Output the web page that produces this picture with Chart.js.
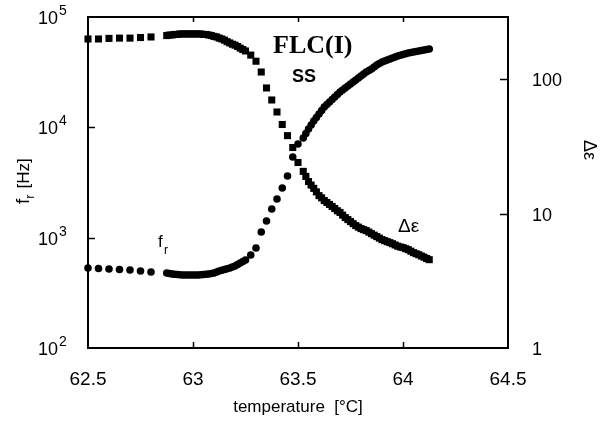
<!DOCTYPE html>
<html><head><meta charset="utf-8">
<script src="https://cdn.jsdelivr.net/npm/chart.js@4/dist/chart.umd.min.js"></script>
<style>html,body{margin:0;padding:0;background:#fff;}canvas{display:block}</style>
</head><body>
<canvas id="c" width="600" height="430"></canvas>
<script>
// temperature [°C]
const temperature = [
  62.5, 62.55, 62.6, 62.65, 62.7, 62.75, 62.8,
  62.875, 62.8875, 62.9, 62.9125, 62.925, 62.9375, 62.95, 62.9625, 62.975, 62.9875,
  63.0, 63.0125, 63.025, 63.0375, 63.05, 63.0625, 63.075, 63.0875, 63.1, 63.1125,
  63.125, 63.1375, 63.15, 63.1625, 63.175, 63.1875, 63.2, 63.2125, 63.225, 63.2375, 63.25,
  63.275, 63.3, 63.325, 63.35, 63.375, 63.4, 63.425, 63.45, 63.475, 63.5, 63.525,
  63.5375, 63.55, 63.5625, 63.575, 63.5875, 63.6, 63.6125, 63.625, 63.6375, 63.65,
  63.6625, 63.675, 63.6875, 63.7, 63.7125, 63.725, 63.7375, 63.75, 63.7625, 63.775,
  63.7875, 63.8, 63.8125, 63.825, 63.8375, 63.85, 63.8625, 63.875, 63.8875, 63.9,
  63.9125, 63.925, 63.9375, 63.95, 63.9625, 63.975, 63.9875, 64.0, 64.0125, 64.025,
  64.0375, 64.05, 64.0625, 64.075, 64.0875, 64.1, 64.1125, 64.125
];
// relaxation frequency f_r [Hz] (circles, left axis)
const frequency = [
  531, 525, 520, 514, 509, 499, 489,
  479, 474, 469, 466, 464, 461, 459, 459, 459, 459,
  459, 459, 459, 461, 464, 466, 469, 474, 479, 489,
  499, 506, 514, 522, 531, 542, 553, 571, 589, 608, 628,
  697, 805, 1125, 1416, 1820, 2239, 2818, 3622, 5384, 7061, 8006,
  8790, 9660, 10500, 11410, 12280, 13200, 14210, 15290, 16100, 16970,
  17870, 18830, 19840, 20900, 21800, 22730, 23690, 24700, 25760, 26850,
  28000, 29190, 30440, 31730, 32740, 33780, 35220, 36720, 37890, 39090,
  39920, 40760, 41620, 42500, 43400, 44300, 44970, 45720, 46400, 47170,
  47670, 48170, 48670, 49180, 49700, 50220, 50740, 51290
];
// dielectric strength Δε (squares, right axis)
const deltaEps = [
  199, 199, 201, 202, 202, 204, 206,
  211, 213, 213, 215, 215, 217, 217, 217, 217, 217,
  217, 217, 217, 217, 215, 215, 213, 211, 208, 206,
  202, 199, 195, 190, 186, 182, 179, 175, 170, 166, 162,
  151, 136, 113, 86, 70, 57, 46, 38, 31, 24.0, 20.6,
  18.9, 17.3, 16.3, 15.4, 14.5, 13.6, 13.1, 12.5, 12.1, 11.7,
  11.3, 10.9, 10.5, 10.2, 9.74, 9.34, 9.02, 8.72, 8.42, 8.14,
  7.93, 7.73, 7.60, 7.47, 7.28, 7.09, 6.91, 6.74, 6.57, 6.40,
  6.29, 6.18, 6.08, 5.97, 5.84, 5.72, 5.64, 5.58, 5.48, 5.39,
  5.25, 5.12, 5.03, 4.94, 4.83, 4.74, 4.63, 4.54
];
const xTicks = [62.5, 63, 63.5, 64, 64.5];
const frTicks = [100, 1000, 10000, 100000];
const frTickExponents = ['2', '3', '4', '5'];
const deTicks = [1, 10, 100];
const deTickLabels = ['1', '10', '100'];

const SANS = '"Liberation Sans", Arial, Helvetica, sans-serif';

const overlay = {
  id: 'overlay',
  beforeDatasetsDraw(chart) {
    const {ctx, chartArea: a, scales} = chart;
    ctx.save();
    ctx.strokeStyle = '#000';
    ctx.lineWidth = 2;
    ctx.strokeRect(a.left, a.top, a.right - a.left, a.bottom - a.top);
    ctx.lineWidth = 1.5;
    ctx.beginPath();
    xTicks.slice(1, -1).forEach(v => {
      const px = Math.round(scales.x.getPixelForValue(v)) + 0.5;
      ctx.moveTo(px, a.bottom); ctx.lineTo(px, a.bottom - 6);
      ctx.moveTo(px, a.top); ctx.lineTo(px, a.top + 5);
    });
    frTicks.slice(1, -1).forEach(v => {
      const py = Math.round(scales.y.getPixelForValue(v)) + 0.5;
      ctx.moveTo(a.left, py); ctx.lineTo(a.left + 7, py);
    });
    deTicks.slice(1).forEach(v => {
      const py = Math.round(scales.y2.getPixelForValue(v)) + 0.5;
      ctx.moveTo(a.right, py); ctx.lineTo(a.right - 8, py);
    });
    ctx.stroke();
    ctx.restore();
  },
  afterDraw(chart) {
    const {ctx, scales} = chart;
    ctx.save();
    ctx.fillStyle = '#000';
    // left tick labels 10^n
    frTicks.forEach((v, i) => {
      const py = scales.y.getPixelForValue(v);
      ctx.font = '18px ' + SANS;
      ctx.textAlign = 'right'; ctx.textBaseline = 'middle';
      ctx.fillText('10', 58, py + 2);
      ctx.font = '14px ' + SANS;
      ctx.textAlign = 'left';
      ctx.fillText(frTickExponents[i], 59, py - 6);
    });
    // right tick labels
    deTicks.forEach((v, i) => {
      const py = scales.y2.getPixelForValue(v);
      ctx.font = '18px ' + SANS;
      ctx.textAlign = 'left'; ctx.textBaseline = 'middle';
      ctx.fillText(deTickLabels[i], 532, py + 2);
    });
    // left axis title f_r [Hz]
    ctx.save();
    ctx.translate(29, 204);
    ctx.rotate(-Math.PI / 2);
    ctx.textAlign = 'left'; ctx.textBaseline = 'alphabetic';
    ctx.font = '19px ' + SANS;
    ctx.fillText('f', 0, 0);
    let w = ctx.measureText('f').width;
    ctx.font = '13px ' + SANS;
    ctx.fillText('r', w, 5);
    w += ctx.measureText('r').width + 6;
    ctx.font = '17px ' + SANS;
    ctx.fillText('[Hz]', w, 0);
    ctx.restore();
    // right axis title Δε
    ctx.save();
    ctx.translate(584, 150);
    ctx.rotate(Math.PI / 2);
    ctx.textAlign = 'center'; ctx.textBaseline = 'alphabetic';
    ctx.font = '18px ' + SANS;
    ctx.fillText('Δε', 0, 0);
    ctx.restore();
    // annotations
    ctx.textAlign = 'left'; ctx.textBaseline = 'alphabetic';
    ctx.font = 'bold 26px "Liberation Serif", "Times New Roman", serif';
    ctx.fillText('FLC(I)', 273, 53);
    ctx.font = 'bold 18px ' + SANS;
    ctx.fillText('SS', 292, 82);
    ctx.font = '17px ' + SANS;
    ctx.fillText('f', 158, 247);
    ctx.font = '12px ' + SANS;
    ctx.fillText('r', 164, 254);
    ctx.font = '19px ' + SANS;
    ctx.fillText('Δε', 398, 232);
    ctx.restore();
  }
};

new Chart(document.getElementById('c'), {
  type: 'scatter',
  data: {
    datasets: [
      {
        label: 'f_r',
        data: temperature.map((t, i) => ({x: t, y: frequency[i]})),
        yAxisID: 'y',
        pointStyle: 'circle',
        pointRadius: 3.8,
        backgroundColor: '#000',
        borderColor: '#000',
        borderWidth: 0,
        showLine: false,
        clip: false
      },
      {
        label: 'Δε',
        data: temperature.map((t, i) => ({x: t, y: deltaEps[i]})),
        yAxisID: 'y2',
        pointStyle: 'rect',
        pointRadius: 5,
        backgroundColor: '#000',
        borderColor: '#000',
        borderWidth: 0,
        showLine: false,
        clip: false
      }
    ]
  },
  options: {
    responsive: false,
    animation: false,
    events: [],
    layout: {padding: {top: 17, left: 0, right: 0, bottom: 0}},
    plugins: {legend: {display: false}, tooltip: {enabled: false}},
    scales: {
      x: {
        type: 'linear',
        min: 62.5, max: 64.5,
        afterBuildTicks: s => { s.ticks = xTicks.map(v => ({value: v})); },
        afterFit: s => { s.height = 82; },
        grid: {display: false, drawTicks: false},
        border: {display: false},
        ticks: {
          color: '#000',
          font: {family: SANS, size: 19},
          padding: 20,
          maxRotation: 0,
          callback: v => String(v)
        },
        title: {
          display: true,
          text: 'temperature  [°C]',
          color: '#000',
          font: {family: SANS, size: 17},
          padding: {top: 0, bottom: 12}
        }
      },
      y: {
        type: 'logarithmic',
        position: 'left',
        min: 100, max: 100000,
        afterBuildTicks: s => { s.ticks = frTicks.map(v => ({value: v})); },
        afterFit: s => { s.width = 88; },
        grid: {display: false, drawTicks: false},
        border: {display: false},
        ticks: {display: false}
      },
      y2: {
        type: 'logarithmic',
        position: 'right',
        min: 1, max: 290,
        afterBuildTicks: s => { s.ticks = deTicks.map(v => ({value: v})); },
        afterFit: s => { s.width = 92; },
        grid: {display: false, drawTicks: false},
        border: {display: false},
        ticks: {display: false}
      }
    }
  },
  plugins: [overlay]
});
</script>
</body></html>
